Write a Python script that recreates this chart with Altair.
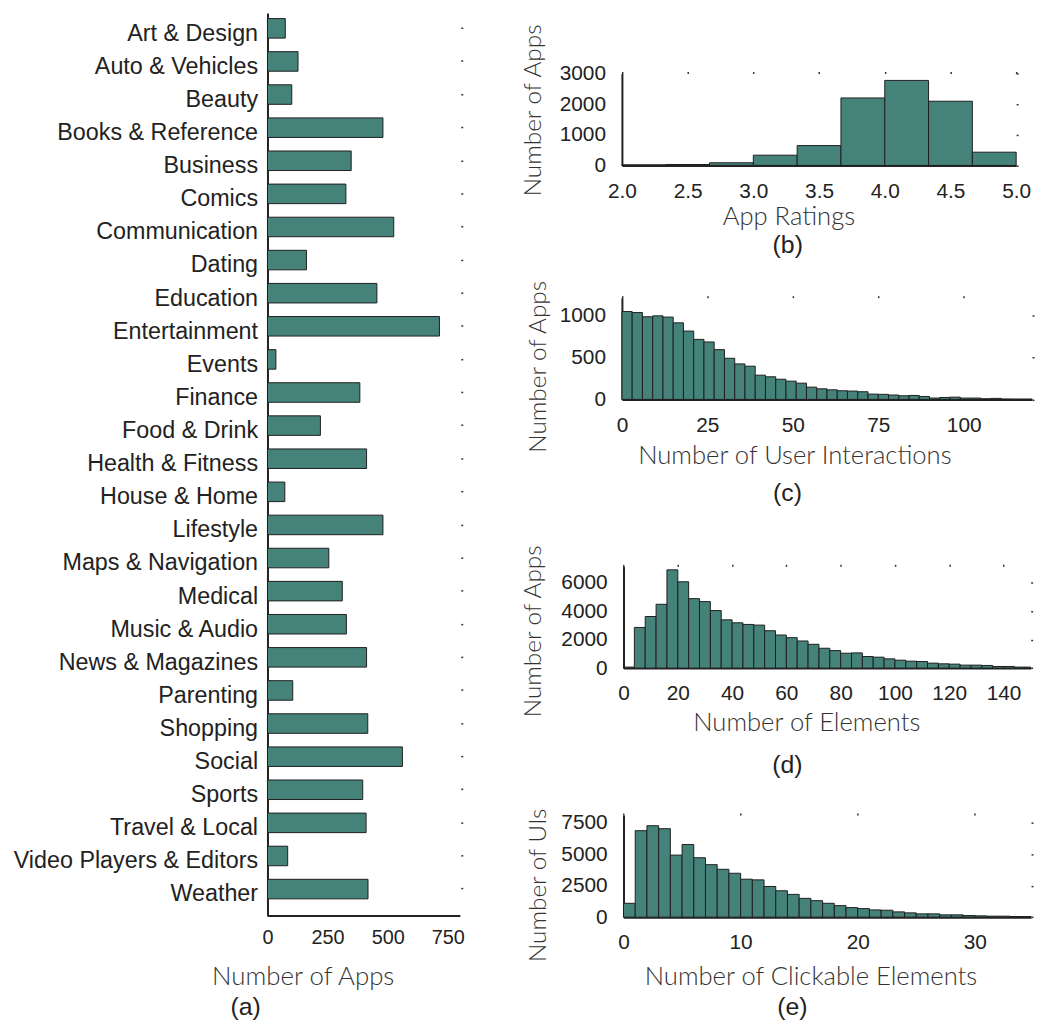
import altair as alt
import pandas as pd

# ---------------- data ----------------
categories = [
    "Art & Design", "Auto & Vehicles", "Beauty", "Books & Reference", "Business",
    "Comics", "Communication", "Dating", "Education", "Entertainment", "Events",
    "Finance", "Food & Drink", "Health & Fitness", "House & Home", "Lifestyle",
    "Maps & Navigation", "Medical", "Music & Audio", "News & Magazines",
    "Parenting", "Shopping", "Social", "Sports", "Travel & Local",
    "Video Players & Editors", "Weather",
]
app_counts = [74, 127, 101, 480, 348, 326, 525, 162, 455, 715, 35, 384, 220,
              412, 72, 480, 255, 311, 328, 412, 105, 417, 561, 396, 410, 84, 418]

rating_start, rating_width = 2.0, 1.0 / 3.0
rating_counts = [20, 30, 86, 334, 647, 2200, 2772, 2093, 431]

interaction_start, interaction_width = 0, 3
interaction_counts = [1045, 1033, 983, 994, 979, 911, 813, 714, 683, 592,
                      489, 422, 395, 288, 269, 240, 217, 193, 146, 126,
                      114, 103, 99, 91, 63, 60, 52, 43, 47, 35,
                      16, 23, 27, 16, 16, 8, 12, 5, 4, 4]

element_start, element_width = 0, 4
element_counts = [70, 2857, 3624, 4483, 6899, 6063, 4878, 4669, 4042, 3391,
                  3182, 3066, 3020, 2625, 2323, 2137, 1905, 1672, 1394, 1231,
                  1045, 1069, 813, 767, 650, 557, 488, 465, 349, 302,
                  279, 209, 209, 186, 116, 116, 70, 70]

clickable_start, clickable_width = 0, 1
clickable_counts = [1102, 6877, 7270, 7034, 4934, 5774, 4724, 4173, 3806, 3491,
                    3018, 2966, 2441, 2100, 1811, 1496, 1312, 1102, 919, 761,
                    682, 577, 551, 420, 341, 262, 262, 184, 184, 131,
                    105, 79, 79, 52, 52]

# ---------------- style ----------------
W, H = 1037, 1013          # view size (page coords minus 8px margin)
FILL = "#45827a"
EDGE = "#1f1f1f"
LABEL_FONT = "Liberation Sans, Arial, Helvetica, sans-serif"
TITLE_FONT = "Lato"
INK = "#222222"
TITLE_SIZE = 25.8
YTITLE_SIZE = 24.5


def hist_df(counts, start, width):
    lo = [start + i * width for i in range(len(counts))]
    return pd.DataFrame({"lo": lo, "hi": [x + width for x in lo],
                         "count": counts, "base": [0] * len(counts)})


def base_axis(**kw):
    d = dict(grid=False, ticks=False, tickSize=0, domainColor=INK, domainWidth=2,
             labelFont=LABEL_FONT, labelColor=INK, labelFlush=False,
             labelOverlap=False, labelBound=False,
             titleFont=TITLE_FONT, titleFontWeight=300, titleColor="#333333",
             titleBaseline="alphabetic")
    d.update(kw)
    return alt.Axis(**d)


def mirror_axis(orient, offset, values, title=None, **kw):
    d = dict(orient=orient, offset=offset, values=values, labels=False, domain=False,
             grid=False, ticks=True, tickSize=2, tickWidth=1.5, tickColor="#333333")
    if title is not None:
        d.update(title=title, titleFont=LABEL_FONT, titleFontSize=25,
                 titleFontWeight="normal", titleColor=INK, titleAngle=0,
                 titleAlign="center", titleBaseline="alphabetic")
    else:
        d.update(title=None)
    d.update(kw)
    return alt.Axis(**d)


def histogram(counts, start, width, xdom, xrange, ydom, yrange, xvals, yvals,
              xfmt, xtitle, xtitle_pos, ytitle, ytitle_pos, caption, caption_pos):
    df = hist_df(counts, start, width)
    xs = alt.Scale(domain=xdom, range=xrange, nice=False, zero=False, clamp=True)
    ys = alt.Scale(domain=ydom, range=yrange, nice=False, zero=True)
    x_ax = base_axis(orient="bottom", offset=yrange[0] - H, values=xvals, format=xfmt,
                     labelFontSize=21, labelBaseline="alphabetic", labelPadding=32,
                     title=xtitle, titleFontSize=TITLE_SIZE, titleAlign="center",
                     titleX=xtitle_pos[0], titleY=xtitle_pos[1] - yrange[0])
    y_ax = base_axis(orient="left", offset=-xrange[0], values=yvals, format="d",
                     labelFontSize=21, labelPadding=16.5,
                     title=ytitle, titleFontSize=YTITLE_SIZE, titleAngle=270,
                     titleAlign="left",
                     titleX=ytitle_pos[0] - xrange[0], titleY=ytitle_pos[1])
    bars = alt.Chart(df).mark_bar(fill=FILL, stroke=EDGE, strokeWidth=1).encode(
        x=alt.X("lo:Q", scale=xs, axis=x_ax),
        x2="hi:Q",
        y=alt.Y("count:Q", scale=ys, axis=y_ax),
        y2="base:Q",
    )
    mirror = alt.Chart(df).mark_bar(opacity=0).encode(
        x=alt.X("lo:Q", scale=xs,
                axis=mirror_axis("top", -yrange[1], xvals, caption,
                                 titleX=caption_pos[0], titleY=caption_pos[1] - yrange[1])),
        x2="hi:Q",
        y=alt.Y("count:Q", scale=ys, axis=mirror_axis("right", xrange[1] - W, yvals)),
        y2="base:Q",
    )
    return [bars, mirror]


def v(p):  # page coordinate -> view coordinate
    return p - 8


# ---------------- panel (a) ----------------
df_a = pd.DataFrame({"category": categories, "count": app_counts})
xa = alt.Scale(domain=[0, 800], range=[v(269.5), v(463.4)], nice=False, zero=True)
ya = alt.Scale(domain=categories, range=[v(9), v(919)], paddingInner=0.41,
               paddingOuter=0.343, align=0.25)
bars_a = alt.Chart(df_a).mark_bar(fill=FILL, stroke=EDGE, strokeWidth=1).encode(
    x=alt.X("count:Q", scale=xa,
            axis=base_axis(orient="bottom", offset=v(918.7) - H, values=[0, 250, 500, 750],
                           labelFontSize=20, labelBaseline="alphabetic", labelPadding=28,
                           title="Number of Apps", titleFontSize=26, titleAlign="center",
                           titleX=v(305), titleY=988.3 - 918.7)),
    y=alt.Y("category:N", sort=categories, scale=ya,
            axis=base_axis(orient="left", offset=-v(269.5), labelFontSize=23.5,
                           labelPadding=10, labelBaseline="alphabetic", labelOffset=12.5,
                           labelLimit=400, title=None)),
)
mirror_a = alt.Chart(df_a).mark_bar(opacity=0).encode(
    x=alt.X("count:Q", scale=xa, axis=None),
    y=alt.Y("category:N", sort=categories, scale=ya,
            axis=mirror_axis("right", v(464.3) - W, categories, "(a)",
                             titleX=v(247) - v(464.3), titleY=v(1018.5))),
)

layers = [bars_a, mirror_a]

# ---------------- panels (b)-(e) ----------------
layers += histogram(rating_counts, rating_start, rating_width,
                    [2, 5], [v(626.7), v(1024)], [0, 3000], [v(162.7), v(70)],
                    [2.0, 2.5, 3.0, 3.5, 4.0, 4.5, 5.0], [0, 1000, 2000, 3000], ".1f",
                    "App Ratings", (v(794.5), v(222.3)),
                    "Number of Apps", (v(545), v(193.3)),
                    "(b)", (v(793.3), v(250)))

layers += histogram(interaction_counts, interaction_start, interaction_width,
                    [0, 120], [v(626.7), v(1040)], [0, 1210], [v(398.5), v(296)],
                    [0, 25, 50, 75, 100], [0, 500, 1000], "d",
                    "Number of User Interactions", (v(800.5), v(462.7)),
                    "Number of Apps", (v(550), v(451.7)),
                    "(c)", (v(793), v(500)))

layers += histogram(element_counts, element_start, element_width,
                    [0, 150], [v(628.3), v(1038.6)], [0, 7150], [v(669.3), v(566.7)],
                    [0, 20, 40, 60, 80, 100, 120, 140], [0, 2000, 4000, 6000], "d",
                    "Number of Elements", (v(812.5), v(731.7)),
                    "Number of Apps", (v(545), v(718.3)),
                    "(d)", (v(793), v(775)))

layers += histogram(clickable_counts, clickable_start, clickable_width,
                    [0, 34.8], [v(628.3), v(1039)], [0, 8125], [v(920.3), v(817.3)],
                    [0, 10, 20, 30], [0, 2500, 5000, 7500], "d",
                    "Number of Clickable Elements", (v(816.7), v(988.3)),
                    "Number of UIs", (v(550), v(965)),
                    "(e)", (v(798), v(1018)))

chart = alt.layer(*layers).resolve_scale(
    x="independent", y="independent"
).resolve_axis(
    x="independent", y="independent"
).properties(
    width=W, height=H, padding=0,
    autosize=alt.AutoSizeParams(type="none"),
).configure_view(stroke=None)

chart.save("out.html", embed_options={"renderer": "svg", "actions": False})
